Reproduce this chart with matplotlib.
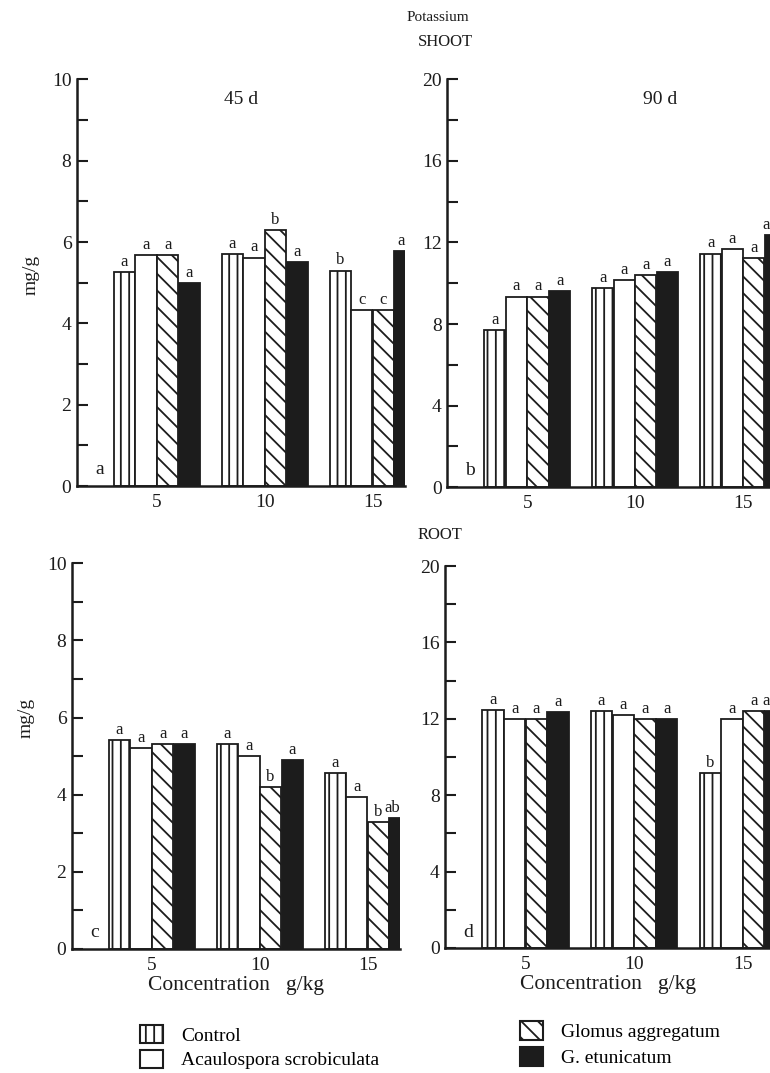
import numpy as np
import matplotlib
matplotlib.use("Agg")
import matplotlib.pyplot as plt
from matplotlib.patches import Patch

plt.rcParams["font.family"] = ["Liberation Serif", "DejaVu Serif"]
plt.rcParams["hatch.linewidth"] = 1.3
ink = "#1c1c1c"

concentrations = [5, 10, 15]
treatments = ["Control", "Acaulospora scrobiculata", "Glomus aggregatum", "G. etunicatum"]

# shoot, 45 d
shoot45 = [[5.27, 5.70, 5.30], [5.68, 5.62, 4.32], [5.68, 6.30, 4.32], [4.99, 5.50, 5.79]]
shoot45_sig = [["a", "a", "b"], ["a", "a", "c"], ["a", "b", "c"], ["a", "a", "a"]]
# shoot, 90 d
shoot90 = [[7.72, 9.78, 11.46], [9.35, 10.14, 11.70], [9.35, 10.39, 11.26], [9.60, 10.55, 12.36]]
shoot90_sig = [["a", "a", "a"], ["a", "a", "a"], ["a", "a", "a"], ["a", "a", "a"]]
# root, 45 d
root45 = [[5.41, 5.31, 4.55], [5.21, 5.01, 3.94], [5.32, 4.20, 3.30], [5.32, 4.91, 3.40]]
root45_sig = [["a", "a", "a"], ["a", "a", "a"], ["a", "b", "b"], ["a", "a", "ab"]]
# root, 90 d
root90 = [[12.45, 12.40, 9.17], [12.00, 12.19, 12.00], [12.00, 12.00, 12.40], [12.37, 12.00, 12.40]]
root90_sig = [["a", "a", "b"], ["a", "a", "a"], ["a", "a", "a"], ["a", "a", "a"]]

fills = ["white", "white", "white", ink]
hatches = ["||", None, "\\\\", None]
offsets = [-1.5, -0.5, 0.5, 1.5]

fig = plt.figure(figsize=(7.7, 10.73), dpi=100)


def panel(rect, values, sig, ymax, major, minor, letter, title=None, title_x=0.5,
          ylabel_y=None, xlabel=False, xright=16.5):
    ax = fig.add_axes(rect)
    x = np.array(concentrations, dtype=float)
    for i in range(4):
        ax.bar(x + offsets[i], values[i], width=0.98, color=fills[i], edgecolor=ink,
               linewidth=1.3, hatch=hatches[i], zorder=2)
        for xi, v, s in zip(x + offsets[i], values[i], sig[i]):
            # letters of bars cut by the edge are pushed inside the figure
            if xi > xright - 0.3:
                ax.annotate(s, (xright, v), xytext=(0, 1.5), textcoords="offset points",
                            ha="right", va="bottom", fontsize=12, color=ink, annotation_clip=False)
            else:
                ax.annotate(s, (xi, v), xytext=(0, 1.5), textcoords="offset points",
                            ha="center", va="bottom", fontsize=12, color=ink, annotation_clip=False)
    ax.set_xlim(1.3, xright)
    ax.set_ylim(0, ymax)
    ax.set_yticks(np.arange(0, ymax + 0.1, major))
    ax.set_yticks(np.arange(minor, ymax, major), minor=True)
    ax.set_xticks(concentrations)
    ax.tick_params(axis="y", which="both", direction="in", length=8, width=1.5,
                   labelsize=14, colors=ink, pad=4)
    ax.tick_params(axis="x", length=0, labelsize=14, colors=ink, pad=6)
    for sp in ["top", "right"]:
        ax.spines[sp].set_visible(False)
    for sp in ["left", "bottom"]:
        ax.spines[sp].set_linewidth(1.8)
        ax.spines[sp].set_color(ink)
    ax.text(0.055, 0.03, letter, transform=ax.transAxes, fontsize=14, color=ink)
    if title:
        ax.text(title_x, 0.94, title, transform=ax.transAxes, fontsize=14, color=ink, ha="center")
    if ylabel_y is not None:
        ax.set_ylabel("mg/g", fontsize=14, color=ink)
        ax.yaxis.set_label_coords(-0.115, ylabel_y)
    if xlabel:
        ax.set_xlabel("Concentration   g/kg", fontsize=15.5, color=ink, labelpad=1)
    return ax


panel([0.100, 0.547, 0.426, 0.379], shoot45, shoot45_sig, 10, 2, 1, "a", "45 d", 0.5, ylabel_y=0.52)
panel([0.581, 0.546, 0.419, 0.380], shoot90, shoot90_sig, 20, 4, 2, "b", "90 d", 0.66, xright=16.25)
panel([0.0935, 0.1156, 0.426, 0.3594], root45, root45_sig, 10, 2, 1, "c", ylabel_y=0.6, xlabel=True)
panel([0.578, 0.1165, 0.422, 0.356], root90, root90_sig, 20, 4, 2, "d", xlabel=True, xright=16.25)

fig.text(0.568, 0.984, "Potassium", fontsize=11, color=ink, ha="center", va="center")
fig.text(0.578, 0.961, "SHOOT", fontsize=12, color=ink, ha="center", va="center")
fig.text(0.571, 0.501, "ROOT", fontsize=12, color=ink, ha="center", va="center")

handles = [Patch(facecolor=f, edgecolor=ink, hatch=h, linewidth=1.5) for f, h in zip(fills, hatches)]
fig.legend(handles[:2], treatments[:2], loc="upper left", bbox_to_anchor=(0.182, 0.045),
           frameon=False, fontsize=14, handlelength=1.2, handleheight=1.1, handletextpad=0.9,
           labelspacing=0.25, borderpad=0, borderaxespad=0)
fig.legend(handles[2:], treatments[2:], loc="upper left", bbox_to_anchor=(0.675, 0.048),
           frameon=False, fontsize=14, handlelength=1.2, handleheight=1.1, handletextpad=0.9,
           labelspacing=0.3, borderpad=0, borderaxespad=0)

fig.savefig("out.png", dpi=100, facecolor="white")
